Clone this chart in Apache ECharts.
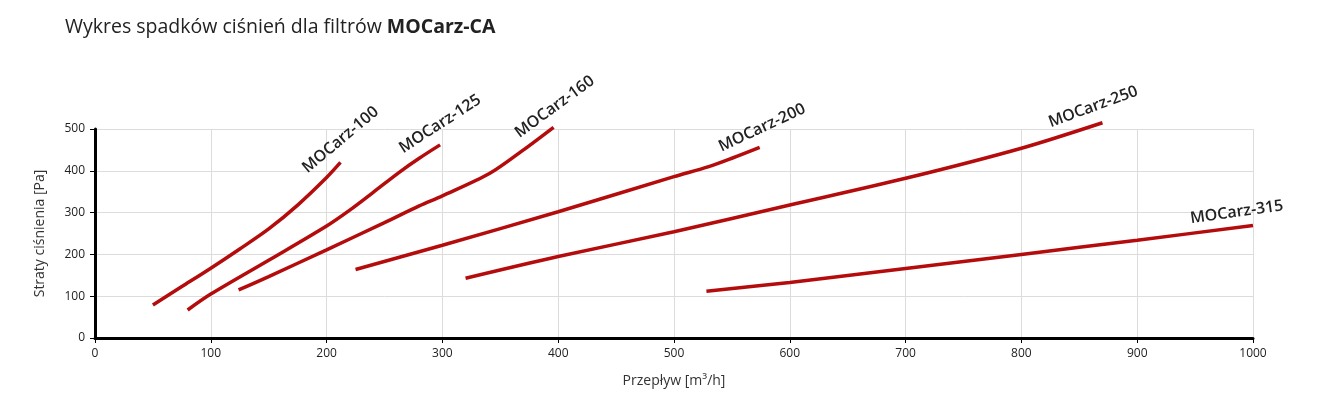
<!DOCTYPE html>
<html>
<head>
<meta charset="utf-8">
<script src="https://cdn.jsdelivr.net/npm/echarts@6/dist/echarts.min.js"></script>
<style>
  html, body { margin: 0; padding: 0; background: #fff; }
</style>
</head>
<body>
<div id="main" style="width: 1317px;height:399px;"></div>
<script>
// przeplyw [m3/h], straty [Pa]
var mocarz100 = [[50, 79], [75, 123], [100, 167], [125, 213], [150, 261], [175, 318], [200, 384], [212, 420]]
var mocarz125 = [[80, 67], [100, 105], [150, 186], [200, 268], [220, 306], [240, 348], [263, 397], [280, 430], [298, 462]]
var mocarz160 = [[124, 115], [150, 147], [200, 211], [250, 276], [280, 316], [300, 340], [341, 394], [370, 450], [396, 504]]
var mocarz200 = [[225, 164], [300, 222], [400, 302], [500, 386], [530, 410], [550, 430], [574, 456]]
var mocarz250 = [[320, 143], [400, 195], [500, 254], [600, 318], [700, 382], [800, 454], [870, 515]]
var mocarz315 = [[528, 112], [600, 133], [700, 166], [800, 200], [900, 234], [1000, 269]]

var names = ['MOCarz-100', 'MOCarz-125', 'MOCarz-160', 'MOCarz-200', 'MOCarz-250', 'MOCarz-315']
var xTicks = [0, 100, 200, 300, 400, 500, 600, 700, 800, 900, 1000]
var yTicks = [0, 100, 200, 300, 400, 500]

var allData = [mocarz100, mocarz125, mocarz160, mocarz200, mocarz250, mocarz315]
// gdzie stoja podpisy krzywych (wsp. danych) i ich obrot w stopniach
var labelAt = [[212, 474, 40], [298, 512, 33], [397, 553, 36], [576, 503, 25], [862, 553, 20], [986, 301, 8]]

var myChart = echarts.init(document.getElementById('main'))
var font = 'Open Sans'

var series = allData.map(function (d, i) {
  return {
    name: names[i],
    type: 'line',
    smooth: 0.3,
    clip: false,
    symbol: 'none',
    data: d,
    lineStyle: { color: '#b40c0c', width: 3.5 }
  }
})

var option = {
  animation: false,
  title: {
    left: 60,
    top: 12,
    text: '{n|Wykres spadków ciśnień dla filtrów }{b|MOCarz-CA}',
    textStyle: {
      rich: {
        n: { fontFamily: font, fontSize: 19.5, fontWeight: 'normal', color: '#222' },
        b: { fontFamily: font, fontSize: 19.5, fontWeight: 'bold', color: '#222' }
      }
    }
  },
  grid: { left: 95, right: 64, top: 129, bottom: 61 },
  xAxis: {
    type: 'value',
    min: xTicks[0],
    max: xTicks[xTicks.length - 1],
    interval: xTicks[1] - xTicks[0],
    name: 'Przepływ [m³/h]',
    nameLocation: 'middle',
    nameGap: 36,
    nameTextStyle: { fontFamily: font, fontSize: 14, color: '#333' },
    axisLine: { lineStyle: { color: '#000', width: 3 } },
    axisTick: { length: 5, lineStyle: { color: '#000' } },
    axisLabel: { fontFamily: font, fontSize: 12, color: '#222', margin: 10, formatter: function (v) { return String(v) } },
    splitLine: { show: true, lineStyle: { color: '#dcdcdc' } }
  },
  yAxis: {
    type: 'value',
    min: yTicks[0],
    max: yTicks[yTicks.length - 1],
    interval: yTicks[1] - yTicks[0],
    name: 'Straty ciśnienia [Pa]',
    nameLocation: 'middle',
    nameGap: 48,
    nameTextStyle: { fontFamily: font, fontSize: 14, color: '#333' },
    axisLine: { show: true, lineStyle: { color: '#000', width: 3 } },
    axisTick: { show: true, length: 5, lineStyle: { color: '#000' } },
    axisLabel: { fontFamily: font, fontSize: 12, color: '#222', margin: 10 },
    splitLine: { show: true, lineStyle: { color: '#dcdcdc' } }
  },
  series: series
}

myChart.setOption(option)

// podpisy krzywych - pozycja liczona przez osie wykresu
var labels = labelAt.map(function (l, i) {
  var p = myChart.convertToPixel({ gridIndex: 0 }, [l[0], l[1]])
  return {
    type: 'text',
    x: p[0],
    y: p[1],
    rotation: l[2] * Math.PI / 180,
    style: {
      text: names[i],
      align: 'center',
      verticalAlign: 'middle',
      fontFamily: font,
      fontSize: 16,
      fontWeight: 600,
      fill: '#222'
    }
  }
})
myChart.setOption({ graphic: labels })
</script>
</body>
</html>
